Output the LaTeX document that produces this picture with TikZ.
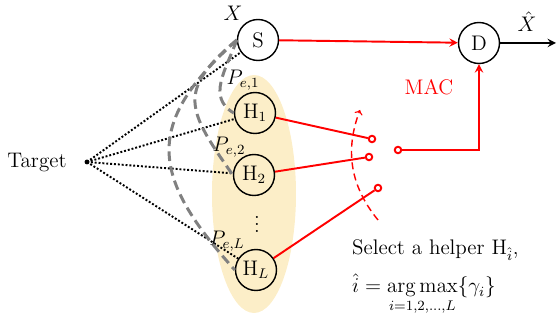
\documentclass[tikz,border=0pt]{standalone}
\usepackage{amsmath}
\usetikzlibrary{arrows, positioning, shapes.geometric}
\definecolor{helperbg}{RGB}{252,238,200}

\begin{document}
\begin{tikzpicture}[
    x=0.02cm, y=0.02cm,
    every node/.style={font=\large},
    unit/.style={circle, draw, thick, minimum size=0.82cm, inner sep=0pt},
    contact/.style={circle, draw=red, line width=1.1pt, fill=white, minimum size=0.13cm, inner sep=0pt},
    link/.style={red, line width=1.1pt},
    arrow/.style={->, >=stealth, line width=1.1pt},
    probe/.style={line width=1.1pt, dash pattern=on 1.1pt off 1.1pt},
    eaves/.style={gray, line width=1.7pt, dash pattern=on 5.5pt off 3pt},
    tag/.style={inner sep=0.5pt}
]
\useasboundingbox (0,0) rectangle (559,320);

% helper group
\fill[helperbg] (254,126) ellipse [x radius=0.84cm, y radius=2.38cm];

\node[unit] (S) at (258,280) {S};
\node[unit] (D) at (479,277) {D};
\node[unit] (H1) at (255,207) {$\mathrm{H}_1$};
\node[unit] (H2) at (254,145) {$\mathrm{H}_2$};
\node[unit] (HL) at (256,50) {$\mathrm{H}_L$};
\node[inner sep=0pt] (dots) at (257,101) {$\vdots$};

\node (target) at (37,157) {Target};
\coordinate (tgt) at (87,158);
\fill (tgt) circle (1.4pt);

\node[tag] (x) at (233,307) {$X$};
\node[tag] (xhat) at (527,298) {$\hat{X}$};
\coordinate (out) at (556,277);
\node[red] (mac) at (429,233) {MAC};

\node[tag] (pe1) at (243,240) {$P_{e,1}$};
\node[tag] (pe2) at (229,173) {$P_{e,2}$};
\node[tag] (peL) at (227,79) {$P_{e,L}$};

% switch
\node[contact] (c1) at (372,181) {};
\node[contact] (c2) at (369,163) {};
\node[contact] (cL) at (378,132) {};
\node[contact] (c0) at (398,170) {};
\coordinate (sw1) at (378,100);
\coordinate (sw2) at (360,210);

\node[anchor=base west] (sel) at (346,65) {Select a helper $\mathrm{H}_{\hat{i}}$,};
\node[anchor=base west] (eq) at (346,27) {$\hat{i} = \displaystyle\operatorname*{arg\,max}_{i=1,2,\ldots,L}\{\gamma_i\}$};

% sensing links
\draw[probe] (tgt) -- (S);
\draw[probe] (tgt) -- (H1);
\draw[probe] (tgt) -- (H2);
\draw[probe] (tgt) -- (HL);

% error links
\draw[eaves] (S.west) to[out=250, in=150, looseness=1.1] (H1.west);
\draw[eaves] (S.west) to[out=220, in=125, looseness=1.5] (H2.west);
\draw[eaves] (S.west) to[out=222, in=132, looseness=1.4] (HL.west);

% channels
\draw[link, arrow] (S) -- (D);
\draw[arrow, black] (D) -- (out);
\draw[link] (H1) -- (c1);
\draw[link] (H2) -- (c2);
\draw[link] (HL) -- (cL);
\draw[link, arrow] (c0) -| (D);
\draw[red, thick, dash pattern=on 4pt off 2.5pt, ->, >=to] (sw1) to[bend left=30] (sw2);

\end{tikzpicture}
\end{document}
